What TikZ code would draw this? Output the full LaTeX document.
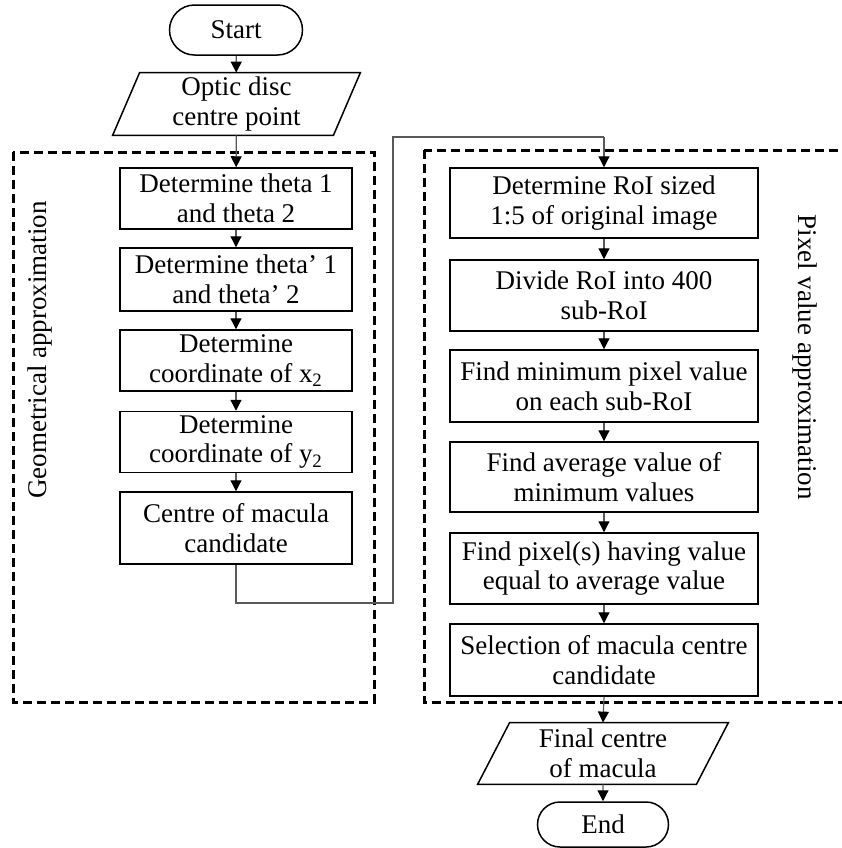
\documentclass[tikz,border=0pt]{standalone}
\usepackage{fontspec}
\setmainfont{Liberation Serif}
\usetikzlibrary{arrows.meta,shapes.misc,calc}
\begin{document}
\begin{tikzpicture}[x=0.5pt,y=-0.5pt,
  every node/.style={font=\fontsize{13.5}{14.8}\selectfont, align=center, inner sep=0pt},
  lbox/.style={draw=black, line width=0.75pt, minimum width=116pt},
  rbox/.style={draw=black, line width=0.75pt, minimum width=154pt},
  term/.style={draw=black, line width=0.75pt, rounded rectangle},
  conn/.style={draw=black!65, line width=0.6pt, -{Triangle[width=5.5pt,length=5.5pt,color=black,fill=black]}},
  plainconn/.style={draw=black!65, line width=0.6pt},
  group/.style={draw=black, line width=1.5pt, dash pattern=on 4.5pt off 2.5pt},
  para/.style={draw=black, line width=0.75pt}
]
\useasboundingbox (0,0) rectangle (842,848);
\clip (0,0) rectangle (842,848);

% group frames
\draw[group] (13,152) rectangle (374,702);
\draw[group] (424,150) rectangle (870,702);
\node[rotate=90] (glabel) at (40,350) {Geometrical approximation};
\node[rotate=-90] (plabel) at (805,357) {Pixel value approximation};

% terminals and io
\node[term, minimum width=66.5pt, minimum height=25pt] (start) at (236,30) {Start};
\node[minimum width=110pt, minimum height=31pt] (in) at (236.5,104) {Optic disc\\centre point};
\draw[para] ($(in.north west)+(13.5,0)$) -- ($(in.north east)+(13.5,0)$) -- ($(in.south east)+(-13.5,0)$) -- ($(in.south west)+(-13.5,0)$) -- cycle;

% left column
\node[lbox, minimum height=30.5pt] (b1) at (236,198.5) {Determine theta 1\\and theta 2};
\node[lbox, minimum height=31.5pt] (b2) at (236,279.5) {Determine theta’ 1\\and theta’ 2};
\node[lbox, minimum height=30.5pt] (b3) at (236,360.5) {Determine\\coordinate of x\textsubscript{2}};
\node[lbox, minimum height=30.5pt] (b4) at (236,442) {Determine\\coordinate of y\textsubscript{2}};
\node[lbox, minimum height=36pt] (b5) at (236,528) {Centre of macula\\candidate};

% right column
\node[rbox, minimum height=35pt] (r1) at (604,203) {Determine RoI sized\\1:5 of original image};
\node[rbox, minimum height=35.5pt] (r2) at (604,295.5) {Divide RoI into 400\\sub-RoI};
\node[rbox, minimum height=36pt] (r3) at (604,386) {Find minimum pixel value\\on each sub-RoI};
\node[rbox, minimum height=35pt] (r4) at (604,477) {Find average value of\\minimum values};
\node[rbox, minimum height=35.5pt] (r5) at (604,568.5) {Find pixel(s) having value\\equal to average value};
\node[rbox, minimum height=36pt] (r6) at (604,660) {Selection of macula centre\\candidate};

% output and end
\node[minimum width=109pt, minimum height=30.5pt] (out) at (603,753.5) {Final centre\\of macula};
\draw[para] ($(out.north west)+(16,0)$) -- ($(out.north east)+(16,0)$) -- ($(out.south east)+(-16,0)$) -- ($(out.south west)+(-16,0)$) -- cycle;
\node[term, minimum width=65.5pt, minimum height=22.5pt] (end) at (603,824.5) {End};

% connectors
\draw[conn] (start) -- (in);
\draw[conn] (in) -- (b1);
\draw[conn] (b1) -- (b2);
\draw[conn] (b2) -- (b3);
\draw[conn] (b3) -- (b4);
\draw[conn] (b4) -- (b5);
\coordinate (c1) at (236,603);
\coordinate (c2) at (393,603);
\coordinate (c3) at (393,137);
\coordinate (c4) at (604,137);
\draw[plainconn] (b5.south) -- (c1) -- (c2) -- (c3) -- (c4);
\draw[conn] (c4) -- (r1.north);
\draw[conn] (r1) -- (r2);
\draw[conn] (r2) -- (r3);
\draw[conn] (r3) -- (r4);
\draw[conn] (r4) -- (r5);
\draw[conn] (r5) -- (r6);
\draw[conn] (r6.south) -- (out.north);
\draw[conn] (out) -- (end);
\end{tikzpicture}
\end{document}
